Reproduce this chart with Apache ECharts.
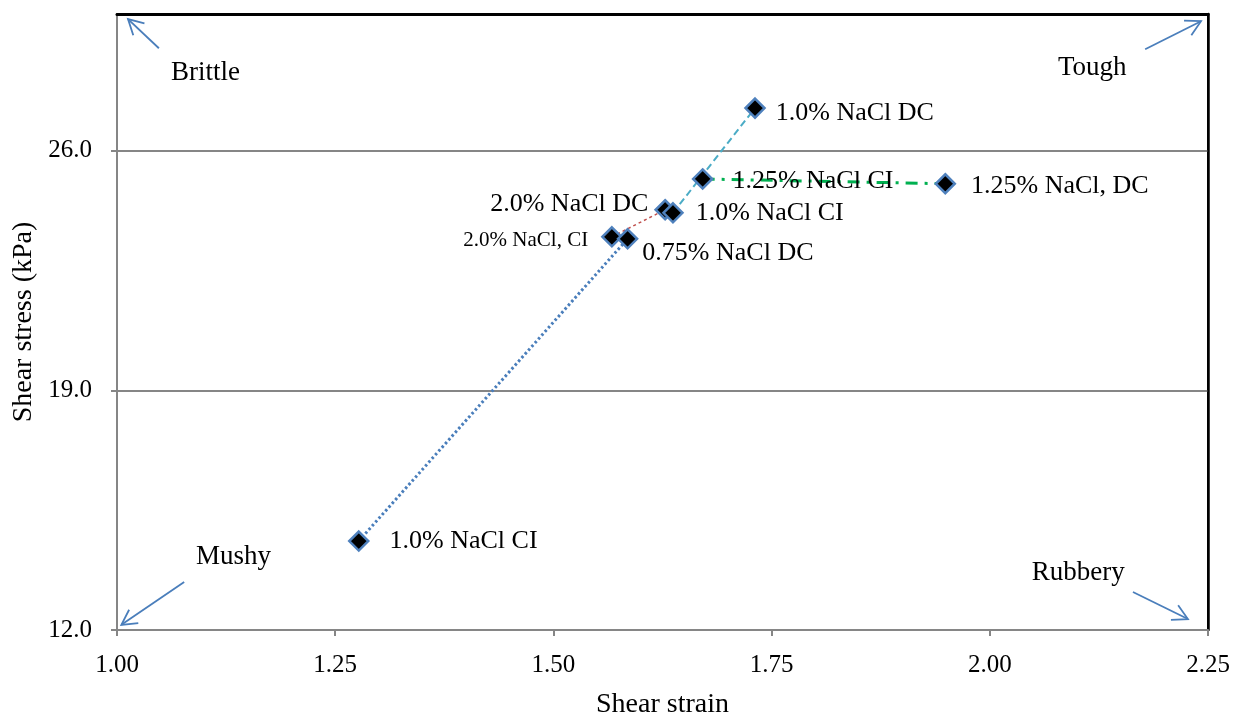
<!DOCTYPE html>
<html><head><meta charset="utf-8">
<script src="https://cdn.jsdelivr.net/npm/echarts@6/dist/echarts.min.js"></script>
<style>html,body{margin:0;padding:0;background:#fff}#c{width:1245px;height:718px}</style>
</head><body><div id="c"></div>
<script>
// ---- data ----
const pointNames = ['1.0% NaCl CI','2.0% NaCl, CI','0.75% NaCl DC','2.0% NaCl DC','1.0% NaCl CI','1.25% NaCl CI','1.0% NaCl DC','1.25% NaCl, DC'];
const strain = [1.277, 1.567, 1.585, 1.628, 1.637, 1.671, 1.731, 1.949];
const stress = [14.60, 23.49, 23.43, 24.28, 24.19, 25.18, 27.25, 25.04];
// connecting pairs (indices into the point arrays)
const pairs = [[0,2],[1,3],[4,6],[5,7]];
const yTicks = [12, 19, 26];
const xTicks = [1.00, 1.25, 1.50, 1.75, 2.00, 2.25];
const quadrants = ['Brittle','Tough','Mushy','Rubbery'];

// ---- styles ----
const FONT = "'Liberation Serif','Times New Roman',serif";
const labelStyle = [
  {position:'right', distance:20, offset:[0,0]},
  {position:'left', distance:13, offset:[0,4], fontSize:21},
  {position:'right', distance:4, offset:[0,14]},
  {position:'left', distance:6, offset:[0,-6]},
  {position:'right', distance:12, offset:[0,0]},
  {position:'right', distance:19, offset:[0,2]},
  {position:'right', distance:10, offset:[0,5]},
  {position:'right', distance:15, offset:[0,2]}
];
const pairStyles = [
  {color:'#4A7EBB', width:3, type:[2.5,2.5]},
  {color:'#C0504D', width:1.5, type:[3,3]},
  {color:'#4BACC6', width:2, type:[7,4]},
  {color:'#00B050', width:3, type:[12,7,3,7]}
];

const chart = echarts.init(document.getElementById('c'), null, {renderer:'canvas'});

const lineSeries = pairs.map((p,i)=>({
  type:'line', silent:true, symbol:'none', z:2,
  data: p.map(k=>[strain[k], stress[k]]),
  lineStyle:{color:pairStyles[i].color, width:pairStyles[i].width, type:pairStyles[i].type, opacity:1}
}));

const scatterData = strain.map((x,i)=>({
  value:[x, stress[i]],
  label:Object.assign({show:true, formatter:pointNames[i], color:'#000', fontFamily:FONT, fontSize:26}, labelStyle[i])
}));

const hiddenAxis = {show:true, axisTick:{show:false}, axisLabel:{show:false}, splitLine:{show:false}};

chart.setOption({
  animation:false,
  grid:{left:117, right:37, top:14, bottom:88, show:true, borderColor:'#000', borderWidth:2, backgroundColor:'#fff',
    containLabel:false, outerBoundsMode:'none'},
  xAxis:[{
    type:'value', min:1, max:2.25, interval:0.25,
    name:'Shear strain', nameLocation:'middle', nameGap:61,
    nameTextStyle:{fontFamily:FONT, fontSize:28, color:'#000'},
    axisLine:{show:true, lineStyle:{color:'#868686', width:2}},
    axisTick:{show:true, inside:false, length:6, customValues:xTicks, lineStyle:{color:'#868686', width:2}},
    axisLabel:{fontFamily:FONT, fontSize:25, color:'#000', margin:23, customValues:xTicks, formatter:v=>v.toFixed(2)},
    splitLine:{show:false}
  }, Object.assign({type:'value', min:1, max:2.25, position:'top',
    axisLine:{show:true, lineStyle:{color:'#000', width:3}}}, hiddenAxis)],
  yAxis:[{
    type:'value', min:12, max:30, interval:7,
    name:'Shear stress (kPa)', nameLocation:'middle', nameGap:79,
    nameTextStyle:{fontFamily:FONT, fontSize:28, color:'#000'},
    axisLine:{show:true, lineStyle:{color:'#868686', width:2}},
    axisTick:{show:true, inside:false, length:6, customValues:yTicks, lineStyle:{color:'#868686', width:2}},
    axisLabel:{fontFamily:FONT, fontSize:25, color:'#000', margin:25, customValues:yTicks, formatter:v=>v.toFixed(1)},
    splitLine:{show:true, lineStyle:{color:'#868686', width:2}}
  }, Object.assign({type:'value', min:12, max:30, position:'right',
    axisLine:{show:true, lineStyle:{color:'#000', width:2.5}}}, hiddenAxis)],
  series: lineSeries.concat([{
    type:'scatter', z:5, symbol:'diamond', symbolSize:19,
    itemStyle:{color:'#000', borderColor:'#4F81BD', borderWidth:2.5, opacity:1},
    label:{fontFamily:FONT, fontSize:26, color:'#000'},
    emphasis:{disabled:true},
    data:scatterData
  }])
});

// quadrant annotations in data coordinates: [tailX, tailY, headX, headY]
const arrows = [
  [1.048, 29.00, 1.0126, 29.85],
  [2.178, 28.97, 2.242, 29.79],
  [1.077, 13.40, 1.005, 12.15],
  [2.164, 13.11, 2.227, 12.32]
];
const textPos = [[1.062, 28.27],[2.078, 28.42],[1.0905, 14.13],[2.048, 13.66]];
const g = [];
arrows.forEach(a=>{
  const t = chart.convertToPixel({xAxisIndex:0, yAxisIndex:0}, [a[0],a[1]]);
  const h = chart.convertToPixel({xAxisIndex:0, yAxisIndex:0}, [a[2],a[3]]);
  const ang = Math.atan2(h[1]-t[1], h[0]-t[0]);
  const L = 17, sp = 0.5;
  const p1 = [h[0]-L*Math.cos(ang-sp), h[1]-L*Math.sin(ang-sp)];
  const p2 = [h[0]-L*Math.cos(ang+sp), h[1]-L*Math.sin(ang+sp)];
  g.push({type:'line', shape:{x1:t[0],y1:t[1],x2:h[0],y2:h[1]}, style:{stroke:'#4A7EBB', lineWidth:1.8}, z:10});
  g.push({type:'polyline', shape:{points:[p1,h,p2]}, style:{stroke:'#4A7EBB', lineWidth:1.8, fill:null}, z:10});
});
quadrants.forEach((q,i)=>{
  const p = chart.convertToPixel({xAxisIndex:0, yAxisIndex:0}, textPos[i]);
  g.push({type:'text', x:p[0], y:p[1], style:{text:q, font:"27px "+FONT, fill:'#000', verticalAlign:'middle', align:'left'}, z:10});
});
chart.setOption({graphic:g});
</script></body></html>
